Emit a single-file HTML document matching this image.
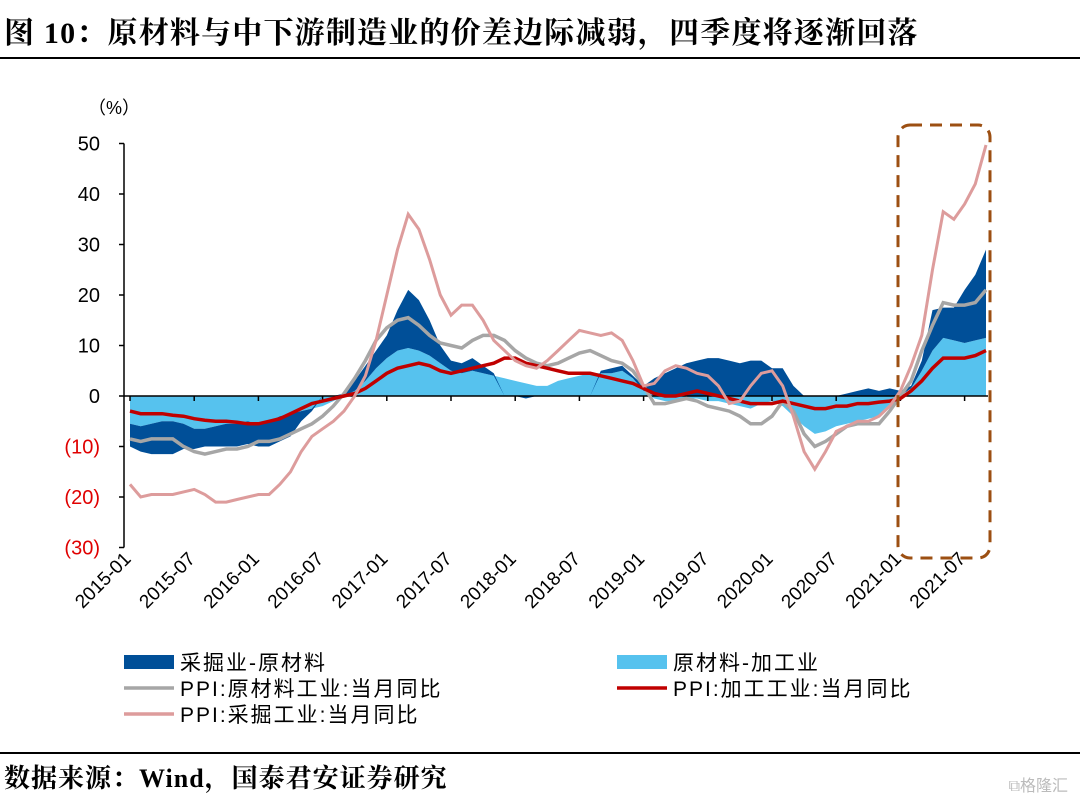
<!DOCTYPE html>
<html><head><meta charset="utf-8">
<style>
body{margin:0;background:#fff;width:1080px;height:801px;overflow:hidden;font-family:"Liberation Serif","Noto Serif CJK SC",serif;}
#title{position:absolute;left:4px;top:8px;font-size:30px;font-weight:bold;color:#000;letter-spacing:1.2px;white-space:nowrap;}
#src{position:absolute;left:4px;top:758px;font-size:26px;font-weight:bold;letter-spacing:1px;white-space:nowrap;}
.hr{position:absolute;left:0;width:1080px;height:2px;background:#000;}
#wm{position:absolute;right:12px;top:772px;font-family:"Liberation Sans","Noto Sans CJK SC",sans-serif;font-size:16px;color:#bbb;}
</style></head><body>
<div id="title">图 10：原材料与中下游制造业的价差边际减弱，四季度将逐渐回落</div>
<div class="hr" style="top:57px"></div>
<svg id="chart" width="1080" height="801" style="position:absolute;left:0;top:0"></svg>
<div class="hr" style="top:752px"></div>
<div id="src">数据来源：Wind，国泰君安证券研究</div>
<div id="wm">⧉格隆汇</div>
<script>
const yTicks=[50,40,30,20,10,0,-10,-20,-30];
const yTickLabels=["50","40","30","20","10","0","(10)","(20)","(30)"];
const xTickLabels=["2015-01","2015-07","2016-01","2016-07","2017-01","2017-07","2018-01","2018-07","2019-01","2019-07","2020-01","2020-07","2021-01","2021-07"];
const mining=[-17.5,-20,-19.5,-19.5,-19.5,-19,-18.5,-19.5,-21,-21,-20.5,-20,
-19.5,-19.5,-17.5,-15,-11,-8,-6.5,-5,-3,0,4,11,
20,29,36,33,27,20,16,18,18,15,11,9,
7,6,5.5,7,9,11,13,12.5,12,12.5,11,7,
2,2.5,5,6,5.5,4.5,4,2,-1.5,-1,2,4.5,
5,2,-4,-11,-14.5,-11,-7,-6,-5,-5,-4,-2,
1,6,12,25,36.5,35,38,42,49.7];
const raw=[-8.5,-9,-8.5,-8.5,-8.5,-10,-11,-11.5,-11,-10.5,-10.5,-10,
-9,-9,-8.5,-7.5,-6.5,-5.5,-4,-2,0.5,3.5,7,11,
13.5,15,15.5,14,12,10.5,10,9.5,11,12,12,11,
9,7.5,6.5,6,6.5,7.5,8.5,9,8,7,6.5,5,
2,-1.5,-1.5,-1,-0.5,-1,-2,-2.5,-3,-4,-5.5,-5.5,
-4,-1,-3,-7.5,-10,-9,-7.5,-6,-5.5,-5.5,-5.5,-3,
0,3,9,14,18.5,18,18,18.5,21];
const proc=[-3,-3.5,-3.5,-3.5,-3.8,-4,-4.5,-4.8,-5,-5,-5.2,-5.5,
-5.5,-5,-4.5,-3.5,-2.5,-1.5,-1,-0.5,0,0.5,1.5,3,
4.5,5.5,6,6.5,6,5,4.5,5,5.5,6,6.5,7.5,
7.5,6.5,6,5.5,5,4.5,4.5,4.5,4,3.5,3,2.5,
1.5,0.5,0,0,0.5,1,0.5,0,-0.5,-1,-1.5,-1.5,
-1.5,-1,-1.5,-2,-2.5,-2.5,-2,-2,-1.5,-1.5,-1.2,-1,
-0.5,1,3,5.5,7.5,7.5,7.5,8,9];
const spreadRawProc=[-5.5,-6,-5.5,-5,-5,-5.5,-6.5,-6.5,-6,-5.5,-5.5,-5,
-5.5,-5,-4,-3.5,-3,-2.5,-2,-1,0,1,3,5.5,
7.5,9,9.5,9,8,6.5,5,4.5,5,4.5,4,3.5,
3,2.5,2,2,3,3.5,4,4.5,4.5,4.5,5,3.5,
1,-0.5,-1,-1,-0.5,-0.5,-1,-1,-1.5,-2,-2.5,-1.5,
-1,-2,-4,-6,-7.5,-7,-6,-5.5,-5,-4.5,-4,-2,
-0.5,1.5,5,9,11.5,11,10.5,11,11.5];
const spreadMiningRaw=[-4.5,-5,-6,-6.5,-6.5,-5,-4,-3.5,-4,-4.5,-4.5,-4.5,
-4.5,-5,-5,-4.5,-2,-0.5,0,0,0.5,2,3,3.5,
4.5,8,11.5,10,7,3.5,2,2,2.5,1.5,0.5,0,
0,-0.5,0,0,0,0,0,0,0.5,1,1,0.5,
1,3.5,4.5,5.5,6.5,7,7.5,7.5,7,6.5,7,7,
5.5,5.5,2,0,0,0,0,0.5,1,1.5,1,1.5,
1,0.5,2,8,6,6.5,10.5,13,17.5];

const svg=document.getElementById('chart');
const NS='http://www.w3.org/2000/svg';
const X0=130,DX=10.7,Y0=396,KY=5.05;
function xs(i){return X0+DX*i;}
function ys(v){return Y0-KY*v;}
function mk(t,a){const e=document.createElementNS(NS,t);for(const k in a)e.setAttribute(k,a[k]);svg.appendChild(e);return e;}
function area(top,base){let d='M'+xs(0)+','+ys(base[0]);for(let i=0;i<top.length;i++)d+='L'+xs(i).toFixed(1)+','+ys(top[i]).toFixed(1);for(let i=top.length-1;i>=0;i--)d+='L'+xs(i).toFixed(1)+','+ys(base[i]).toFixed(1);return d+'Z';}
function line(a){return a.map((v,i)=>(i?'L':'M')+xs(i).toFixed(1)+','+ys(v).toFixed(1)).join('');}

const zero=spreadRawProc.map(()=>0);
let e=mk('path',{d:area(spreadRawProc,zero),fill:'#56c2ee'});


const dBase=spreadMiningRaw.map((v,i)=>(v*spreadRawProc[i]>0)?spreadRawProc[i]:0);
const dTop=spreadMiningRaw.map((v,i)=>dBase[i]+v);
e=mk('path',{d:area(dTop,dBase),fill:'#004f98'});



e=mk('line',{x1:124,y1:ys(50),x2:124,y2:ys(-30),stroke:'#000','stroke-width':1.5});


e=mk('line',{x1:124,y1:Y0,x2:xs(80)+2,y2:Y0,stroke:'#000','stroke-width':1.5});


yTicks.forEach((v,i)=>{
  mk('line',{x1:119,y1:ys(v),x2:124,y2:ys(v),stroke:'#000','stroke-width':1.5});
  const t=mk('text',{x:100,y:ys(v)+7,'text-anchor':'end','font-size':20,fill:v<0?'#e00000':'#000','font-family':'Liberation Sans, sans-serif'});
  t.textContent=yTickLabels[i];
  
  
});
e=mk('text',{x:88,y:114,'font-size':18,'font-family':'Liberation Sans, Noto Sans CJK SC, sans-serif'});
e.textContent='（%）';


xTickLabels.forEach((s,k)=>{
  const x=xs(k*6);
  mk('line',{x1:x,y1:Y0,x2:x,y2:Y0+5,stroke:'#000','stroke-width':1.5});
  const t=mk('text',{x:x+2,y:560,'text-anchor':'end','font-size':19,'font-family':'Liberation Sans, sans-serif',transform:`rotate(-45 ${x+2} 560)`});
  t.textContent=s;
  
  
});

e=mk('path',{d:line(raw),fill:'none',stroke:'#a6a6a6','stroke-width':3.5});


e=mk('path',{d:line(proc),fill:'none',stroke:'#c00000','stroke-width':3.5});


e=mk('path',{d:line(mining),fill:'none',stroke:'#dd9c9c','stroke-width':3});



e=mk('rect',{x:898,y:125,width:92,height:433,rx:12,fill:'none',stroke:'#9c4f12','stroke-width':3,'stroke-dasharray':'12 8'});



const legend=[
 {x:124,y:662,t:'采掘业-原材料',c:'#004f98',k:'rect'},
 {x:617,y:662,t:'原材料-加工业',c:'#56c2ee',k:'rect'},
 {x:124,y:688,t:'PPI:原材料工业:当月同比',c:'#a6a6a6',k:'line'},
 {x:617,y:688,t:'PPI:加工工业:当月同比',c:'#c00000',k:'line'},
 {x:124,y:714,t:'PPI:采掘工业:当月同比',c:'#dd9c9c',k:'line'}];
legend.forEach(l=>{
  const g=document.createElementNS(NS,'g');svg.appendChild(g);
  
  
  let s;
  if(l.k==='rect'){s=document.createElementNS(NS,'rect');s.setAttribute('x',l.x);s.setAttribute('y',l.y-7);s.setAttribute('width',50);s.setAttribute('height',14);s.setAttribute('fill',l.c);}
  else{s=document.createElementNS(NS,'line');s.setAttribute('x1',l.x);s.setAttribute('x2',l.x+50);s.setAttribute('y1',l.y);s.setAttribute('y2',l.y);s.setAttribute('stroke',l.c);s.setAttribute('stroke-width',3.5);}
  g.appendChild(s);
  const t=document.createElementNS(NS,'text');
  t.setAttribute('x',l.x+56);t.setAttribute('y',l.y+8);t.setAttribute('font-size',21);
  t.setAttribute('letter-spacing','2');
  t.setAttribute('font-family','Liberation Sans, Noto Sans CJK SC, sans-serif');
  t.textContent=l.t;g.appendChild(t);
});
</script>
</body></html>
